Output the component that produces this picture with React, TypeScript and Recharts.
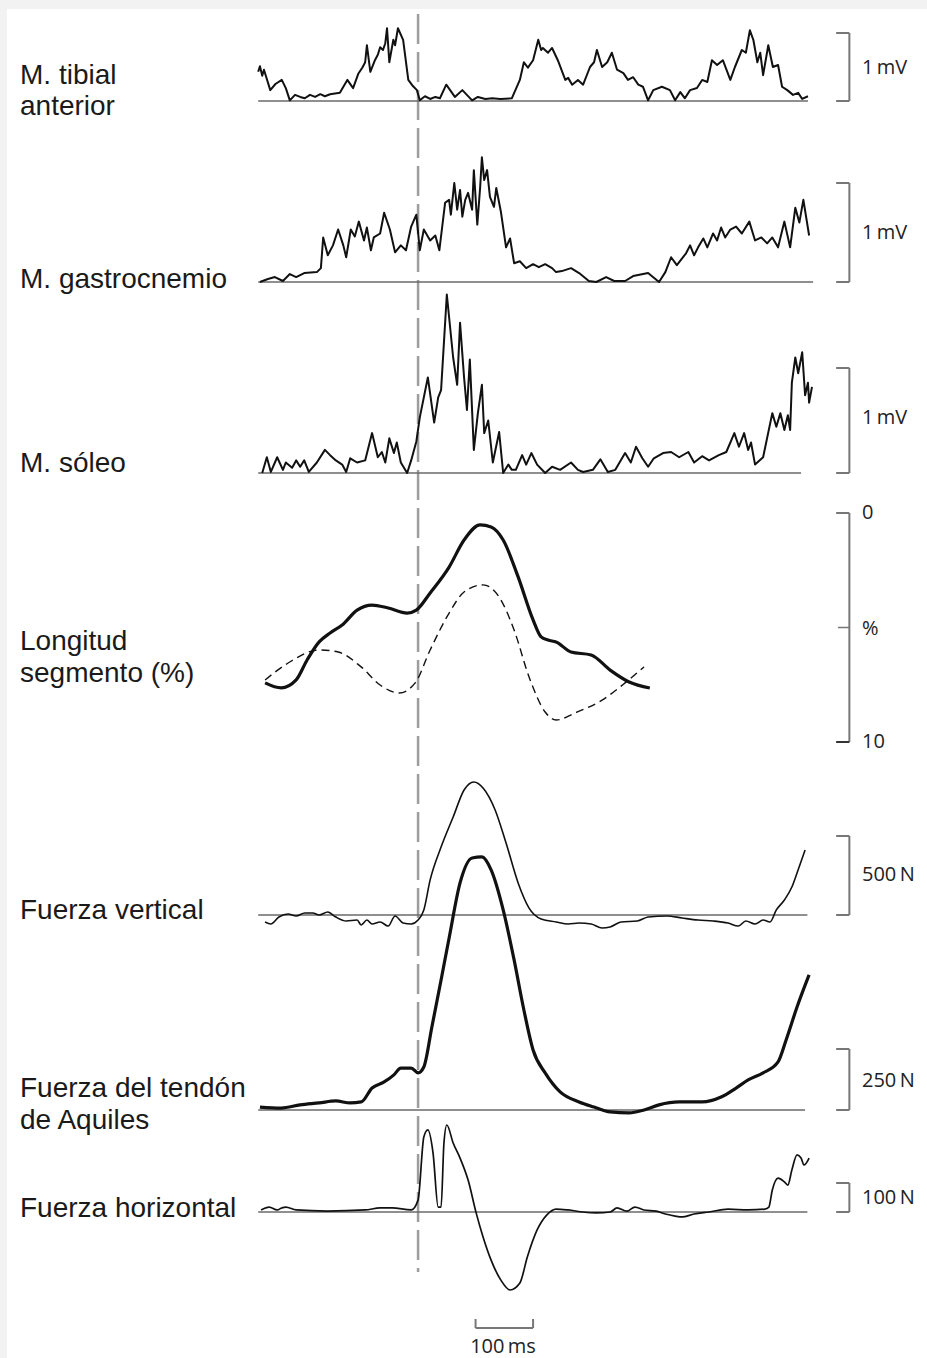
import React from 'react';
import { ComposedChart, Line, XAxis, YAxis, ReferenceLine } from 'recharts';

// time in ms, 0 = heel contact (dashed line); values in each panel's unit
const tibialAnterior: [number, number][] = [
  [-278, 0.43], [-275, 0.51], [-271, 0.37], [-268, 0.46], [-257, 0.16], [-248, 0.25], [-237, 0.31], [-230, 0.19],
  [-223, 0.01], [-214, 0.09], [-205, 0.06], [-197, 0.04], [-188, 0.09], [-179, 0.06], [-170, 0.1], [-162, 0.07],
  [-153, 0.1], [-136, 0.12], [-123, 0.31], [-113, 0.19], [-104, 0.4], [-97, 0.49], [-92, 0.57], [-89, 0.82],
  [-83, 0.43], [-75, 0.6], [-70, 0.68], [-66, 0.79], [-61, 0.75], [-57, 0.85], [-54, 1.07], [-50, 0.57],
  [-43, 0.9], [-40, 0.82], [-35, 1.07], [-26, 0.9], [-17, 0.31], [-9, 0.22], [-2, 0.16], [3, 0.01],
  [12, 0.07], [21, 0.03], [30, 0.06], [38, 0.04], [49, 0.24], [64, 0.06], [77, 0.16], [94, 0.01],
  [104, 0.06], [117, 0.03], [129, 0.04], [143, 0.03], [163, 0.04], [177, 0.31], [184, 0.57], [191, 0.49],
  [200, 0.6], [209, 0.9], [214, 0.75], [217, 0.78], [226, 0.71], [233, 0.78], [243, 0.6], [256, 0.31],
  [261, 0.34], [268, 0.24], [278, 0.31], [287, 0.24], [299, 0.5], [306, 0.57], [311, 0.75], [320, 0.5],
  [329, 0.57], [337, 0.71], [346, 0.46], [357, 0.41], [365, 0.31], [374, 0.35], [383, 0.24], [391, 0.21],
  [400, 0.01], [409, 0.16], [424, 0.21], [438, 0.16], [447, 0.01], [456, 0.13], [464, 0.04], [473, 0.16],
  [485, 0.19], [494, 0.31], [503, 0.28], [511, 0.6], [520, 0.53], [530, 0.6], [543, 0.31], [551, 0.5],
  [563, 0.75], [570, 0.71], [577, 1.04], [583, 0.9], [590, 0.57], [595, 0.71], [600, 0.38], [609, 0.82],
  [617, 0.5], [626, 0.53], [633, 0.21], [642, 0.16], [652, 0.09], [661, 0.12], [668, 0.03], [678, 0.07],
];

const gastrocnemius: [number, number][] = [
  [-275, 0], [-261, 0.03], [-249, 0.05], [-235, 0.01], [-223, 0.08], [-212, 0.05], [-198, 0.09], [-176, 0.1],
  [-169, 0.14], [-165, 0.45], [-157, 0.27], [-148, 0.37], [-139, 0.53], [-130, 0.37], [-125, 0.25], [-117, 0.53],
  [-110, 0.46], [-103, 0.61], [-94, 0.42], [-89, 0.55], [-82, 0.32], [-77, 0.45], [-66, 0.49], [-59, 0.7],
  [-49, 0.53], [-40, 0.3], [-30, 0.37], [-21, 0.32], [-12, 0.56], [-3, 0.68], [3, 0.32], [10, 0.53],
  [21, 0.42], [30, 0.47], [37, 0.32], [47, 0.8], [54, 0.83], [57, 0.68], [63, 1.0], [68, 0.73],
  [73, 0.93], [77, 0.66], [82, 0.83], [87, 0.9], [94, 0.73], [97, 1.13], [103, 0.58], [108, 0.96],
  [111, 1.26], [115, 1.03], [120, 1.13], [125, 0.86], [132, 0.76], [136, 0.95], [144, 0.71], [153, 0.35],
  [160, 0.44], [167, 0.19], [177, 0.21], [188, 0.14], [200, 0.18], [210, 0.15], [221, 0.18], [233, 0.14],
  [240, 0.1], [250, 0.11], [266, 0.14], [280, 0.09], [297, 0.01], [310, 0], [327, 0.05], [341, 0.01],
  [360, 0.01], [374, 0.06], [400, 0.09], [419, 0], [430, 0.1], [440, 0.25], [450, 0.17], [466, 0.29],
  [473, 0.37], [480, 0.27], [487, 0.35], [496, 0.44], [503, 0.35], [513, 0.49], [520, 0.42], [527, 0.55],
  [534, 0.45], [543, 0.53], [553, 0.56], [563, 0.49], [576, 0.61], [586, 0.42], [597, 0.45], [607, 0.39],
  [616, 0.45], [626, 0.35], [637, 0.61], [647, 0.35], [656, 0.75], [663, 0.6], [670, 0.83], [680, 0.47],
];

const soleus: [number, number][] = [
  [-271, 0], [-263, 0.15], [-256, 0.01], [-245, 0.15], [-235, 0.03], [-230, 0.1], [-219, 0.05], [-212, 0.12],
  [-205, 0.06], [-198, 0.12], [-190, 0.01], [-176, 0.1], [-162, 0.22], [-153, 0.17], [-143, 0.12], [-132, 0.08],
  [-125, 0.01], [-118, 0.14], [-106, 0.1], [-92, 0.12], [-80, 0.38], [-70, 0.15], [-63, 0.2], [-57, 0.1],
  [-50, 0.33], [-42, 0.19], [-37, 0.29], [-30, 0.1], [-19, 0], [-12, 0.12], [-3, 0.3], [3, 0.53],
  [17, 0.91], [28, 0.48], [35, 0.72], [40, 0.79], [50, 1.7], [61, 1.1], [68, 0.84], [73, 1.43],
  [80, 0.91], [85, 0.6], [90, 1.08], [97, 0.22], [104, 0.57], [111, 0.84], [115, 0.38], [122, 0.5],
  [130, 0.1], [141, 0.39], [148, 0], [157, 0.08], [163, 0.03], [170, 0.03], [181, 0.17], [188, 0.08],
  [197, 0.19], [207, 0.08], [221, 0], [233, 0.06], [247, 0.03], [266, 0.1], [278, 0.03], [287, 0.01],
  [304, 0.03], [317, 0.13], [330, 0.01], [343, 0.03], [360, 0.19], [370, 0.1], [379, 0.25], [390, 0.14],
  [400, 0.06], [410, 0.14], [426, 0.19], [440, 0.2], [454, 0.15], [470, 0.2], [480, 0.1], [494, 0.16],
  [506, 0.12], [523, 0.17], [536, 0.2], [550, 0.38], [558, 0.25], [567, 0.38], [574, 0.22], [579, 0.29],
  [586, 0.08], [600, 0.15], [616, 0.57], [623, 0.44], [630, 0.57], [637, 0.41], [643, 0.55], [647, 0.41],
  [650, 0.86], [656, 1.1], [661, 0.95], [668, 1.15], [673, 0.74], [678, 0.86], [680, 0.67], [685, 0.82],
];

// segment length, % shortening (0 at top, 10 at bottom)
const lengthMuscle: [number, number][] = [
  [-266, 7.42], [-238, 7.64], [-212, 7.29], [-193, 6.42], [-172, 5.63], [-153, 5.24], [-132, 4.89], [-106, 4.24],
  [-80, 4.02], [-52, 4.15], [-19, 4.37], [-3, 4.24], [21, 3.49], [54, 2.36], [80, 1.18], [108, 0.52],
  [127, 0.61], [148, 1.18], [174, 2.79], [200, 4.67], [214, 5.41], [226, 5.55], [240, 5.63], [266, 6.07],
  [301, 6.2], [334, 6.86], [367, 7.38], [403, 7.64],
];
const lengthTendon: [number, number][] = [
  [-266, 7.29], [-226, 6.55], [-172, 5.98], [-139, 6.07], [-99, 6.72], [-66, 7.51], [-33, 7.86], [-5, 7.42],
  [21, 5.98], [54, 4.37], [80, 3.45], [113, 3.14], [141, 3.67], [167, 5.11], [193, 7.16], [221, 8.69],
  [240, 9.04], [273, 8.73], [320, 8.17], [360, 7.42], [393, 6.72],
];

// forces in N
const verticalForce: [number, number][] = [
  [-266, -44], [-256, -57], [-242, -13], [-226, 6], [-212, -6], [-197, 13], [-183, 13], [-172, 0],
  [-157, 19], [-143, -13], [-125, -38], [-106, -32], [-99, -63], [-89, -32], [-80, -57], [-66, -44],
  [-52, -70], [-40, -6], [-26, -51], [-12, -57], [0, -32], [10, 32], [21, 222], [40, 430],
  [61, 620], [80, 791], [97, 842], [113, 804], [134, 665], [153, 456], [174, 203], [193, 44],
  [214, -25], [240, -44], [261, -57], [280, -51], [301, -57], [320, -82], [334, -76], [353, -44],
  [381, -38], [400, -13], [433, -6], [459, -19], [487, -32], [513, -38], [539, -51], [557, -70],
  [570, -38], [586, -57], [600, -32], [612, -44], [623, 32], [637, 95], [650, 177], [659, 266], [673, 411],
];

const achillesForce: [number, number][] = [
  [-275, 12], [-238, 8], [-205, 21], [-172, 29], [-143, 37], [-118, 29], [-99, 33], [-80, 90],
  [-59, 115], [-42, 144], [-30, 172], [-12, 172], [0, 152], [10, 176], [24, 340], [40, 533],
  [54, 705], [73, 931], [94, 1033], [111, 1037], [127, 984], [148, 820], [167, 615], [184, 410],
  [200, 246], [221, 152], [247, 74], [280, 33], [306, 12], [334, -8], [367, -12], [393, 0],
  [419, 21], [454, 33], [494, 33], [527, 53], [553, 90], [574, 123], [600, 152], [626, 197],
  [640, 287], [659, 422], [680, 554],
];

const horizontalForce: [number, number][] = [
  [-273, 7], [-259, 17], [-245, 7], [-237, 14], [-230, 17], [-212, 7], [-158, 3], [-92, 7],
  [-66, 14], [-45, 14], [-12, 7], [0, 41], [10, 259], [17, 283], [26, 204], [35, 17],
  [40, 17], [45, 238], [50, 300], [61, 238], [73, 186], [87, 110], [101, -3], [113, -86],
  [127, -166], [144, -235], [160, -269], [177, -245], [190, -155], [207, -62], [224, -10], [240, 10],
  [261, 7], [287, 0], [310, -3], [334, 0], [346, 14], [363, 3], [377, 17], [393, 7],
  [414, 3], [430, -7], [447, -14], [459, -17], [480, -7], [506, 0], [539, 10], [574, 7],
  [603, 10], [610, 17], [616, 76], [626, 117], [637, 104], [643, 93], [650, 145], [659, 197],
  [666, 186], [671, 162], [680, 186],
];

const W = 927;
const H = 1358;
const T_MIN = -727;
const T_MAX = 885;

// layout: baseline pixel row and pixels per unit for every strip
const panels = [
  { id: 'tib', base: 101, px: 68, scale: 1, label: '1\u2009mV', line: [-278, 678] },
  { id: 'gas', base: 282, px: 99, scale: 1, label: '1\u2009mV', line: [-278, 687] },
  { id: 'sol', base: 473, px: 105, scale: 1, label: '1\u2009mV', line: [-278, 666] },
  { id: 'fv', base: 915, px: 0.158, scale: 500, label: '500\u2009N', line: [-278, 677] },
  { id: 'fa', base: 1110, px: 0.244, scale: 250, label: '250\u2009N', line: [-278, 673] },
  { id: 'fh', base: 1212, px: 0.29, scale: 100, label: '100\u2009N', line: [-278, 677] },
];
const LEN_TOP = 513;
const LEN_PX = 22.9;

const leftLabels = [
  { y: 75, text: 'M. tibial' },
  { y: 106, text: 'anterior' },
  { y: 279, text: 'M. gastrocnemio' },
  { y: 463, text: 'M. sóleo' },
  { y: 641, text: 'Longitud' },
  { y: 673, text: 'segmento (%)' },
  { y: 910, text: 'Fuerza vertical' },
  { y: 1088, text: 'Fuerza del tendón' },
  { y: 1120, text: 'de Aquiles' },
  { y: 1208, text: 'Fuerza horizontal' },
];

const rightLabels = [
  { y: 67, text: '1\u2009mV' },
  { y: 232, text: '1\u2009mV' },
  { y: 417, text: '1\u2009mV' },
  { y: 512, text: '0' },
  { y: 628, text: '%' },
  { y: 741, text: '10' },
  { y: 874, text: '500\u2009N' },
  { y: 1080, text: '250\u2009N' },
  { y: 1197, text: '100\u2009N' },
];

const pts = (a: [number, number][]) => a.map(([t, v]) => ({ t, v }));

const BAR_X = 750;
const TICK_X = 727;
const GREY = '#777';

const App: React.FC = () => {
  const trace = (id: string, data: [number, number][], w: number, type: 'linear' | 'monotone') => (
    <Line
      key={id}
      data={pts(data)}
      dataKey="v"
      xAxisId="t"
      yAxisId={id}
      type={type}
      stroke="#111"
      strokeWidth={w}
      strokeLinejoin="round"
      dot={false}
      activeDot={false}
      isAnimationActive={false}
    />
  );
  const seg = (key: string, axis: string, x1: number, y1: number, x2: number, y2: number, color = GREY, w = 2) => (
    <ReferenceLine
      key={key}
      xAxisId="t"
      yAxisId={axis}
      segment={[{ x: x1, y: y1 }, { x: x2, y: y2 }]}
      stroke={color}
      strokeWidth={w}
      ifOverflow="visible"
    />
  );

  return (
    <div style={{ position: 'absolute', left: 0, top: 0, width: W, height: H, background: '#f2f2f2', overflow: 'hidden' }}>
      <div style={{ position: 'absolute', left: 7, top: 9, width: W - 7, height: H - 9, background: '#fff' }} />
      <div style={{ position: 'absolute', left: 0, top: 0 }}>
        <ComposedChart width={W} height={H} margin={{ top: 0, right: 0, bottom: 0, left: 0 }}>
          <XAxis xAxisId="t" dataKey="t" type="number" domain={[T_MIN, T_MAX]} hide allowDataOverflow />
          {panels.map((p) => (
            <YAxis
              key={p.id}
              yAxisId={p.id}
              type="number"
              domain={[(p.base - H) / p.px, p.base / p.px]}
              hide
              allowDataOverflow
            />
          ))}
          <YAxis yAxisId="len" type="number" reversed domain={[-LEN_TOP / LEN_PX, (H - LEN_TOP) / LEN_PX]} hide allowDataOverflow />
          <YAxis yAxisId="px" type="number" reversed domain={[0, H]} hide allowDataOverflow />

          {/* heel contact marker */}
          <ReferenceLine xAxisId="t" yAxisId="px" segment={[{ x: 0, y: 14 }, { x: 0, y: 1272 }]} stroke="#9d9d9d" strokeWidth={2.5} strokeDasharray="30 8" ifOverflow="visible" />

          {panels.map((p) => seg(p.id + 'base', p.id, p.line[0], 0, p.line[1], 0, '#6a6a6a', 1.6))}
          {panels.map((p) => seg(p.id + 'b0', p.id, TICK_X, 0, BAR_X, 0))}
          {panels.map((p) => seg(p.id + 'b1', p.id, BAR_X, 0, BAR_X, p.scale))}
          {panels.map((p) => seg(p.id + 'b2', p.id, TICK_X, p.scale, BAR_X, p.scale))}

          {seg('len0', 'len', TICK_X, 0, BAR_X, 0)}
          {seg('len1', 'len', BAR_X, 0, BAR_X, 10)}
          {seg('len2', 'len', TICK_X, 10, BAR_X, 10, '#333')}
          {seg('len3', 'len', TICK_X + 3, 5, BAR_X, 5, GREY, 1.5)}

          {/* 100 ms time bar */}
          {seg('ms0', 'px', 100, 1328, 200, 1328)}
          {seg('ms1', 'px', 100, 1319, 100, 1328)}
          {seg('ms2', 'px', 200, 1319, 200, 1328)}

          {trace('tib', tibialAnterior, 2, 'linear')}
          {trace('gas', gastrocnemius, 2, 'linear')}
          {trace('sol', soleus, 2, 'linear')}
          <Line data={pts(lengthMuscle)} dataKey="v" xAxisId="t" yAxisId="len" type="monotone" stroke="#111" strokeWidth={3.2} dot={false} activeDot={false} isAnimationActive={false} />
          <Line data={pts(lengthTendon)} dataKey="v" xAxisId="t" yAxisId="len" type="monotone" stroke="#111" strokeWidth={1.4} strokeDasharray="8 5" dot={false} activeDot={false} isAnimationActive={false} />
          {trace('fv', verticalForce, 1.6, 'monotone')}
          {trace('fa', achillesForce, 3.2, 'monotone')}
          {trace('fh', horizontalForce, 1.7, 'monotone')}
        </ComposedChart>
      </div>

      {leftLabels.map((l) => (
        <div
          key={l.text}
          style={{
            position: 'absolute', left: 20, top: l.y, transform: 'translateY(-50%)',
            fontFamily: '"Liberation Sans", Arial, sans-serif', fontSize: 28, color: '#1a1a1a', whiteSpace: 'nowrap', lineHeight: 1,
          }}
        >
          {l.text}
        </div>
      ))}
      {rightLabels.map((l, i) => (
        <div
          key={i}
          style={{
            position: 'absolute', left: 862, top: l.y, transform: 'translateY(-50%)',
            fontFamily: '"Open Sans", sans-serif', fontSize: 20, color: '#222', whiteSpace: 'nowrap', lineHeight: 1,
          }}
        >
          {l.text}
        </div>
      ))}
      <div
        style={{
          position: 'absolute', left: 503, top: 1346, transform: 'translate(-50%, -50%)',
          fontFamily: '"Open Sans", sans-serif', fontSize: 20, color: '#222', whiteSpace: 'nowrap', lineHeight: 1,
        }}
      >
        100{'\u2009'}ms
      </div>
    </div>
  );
};

export default App;
